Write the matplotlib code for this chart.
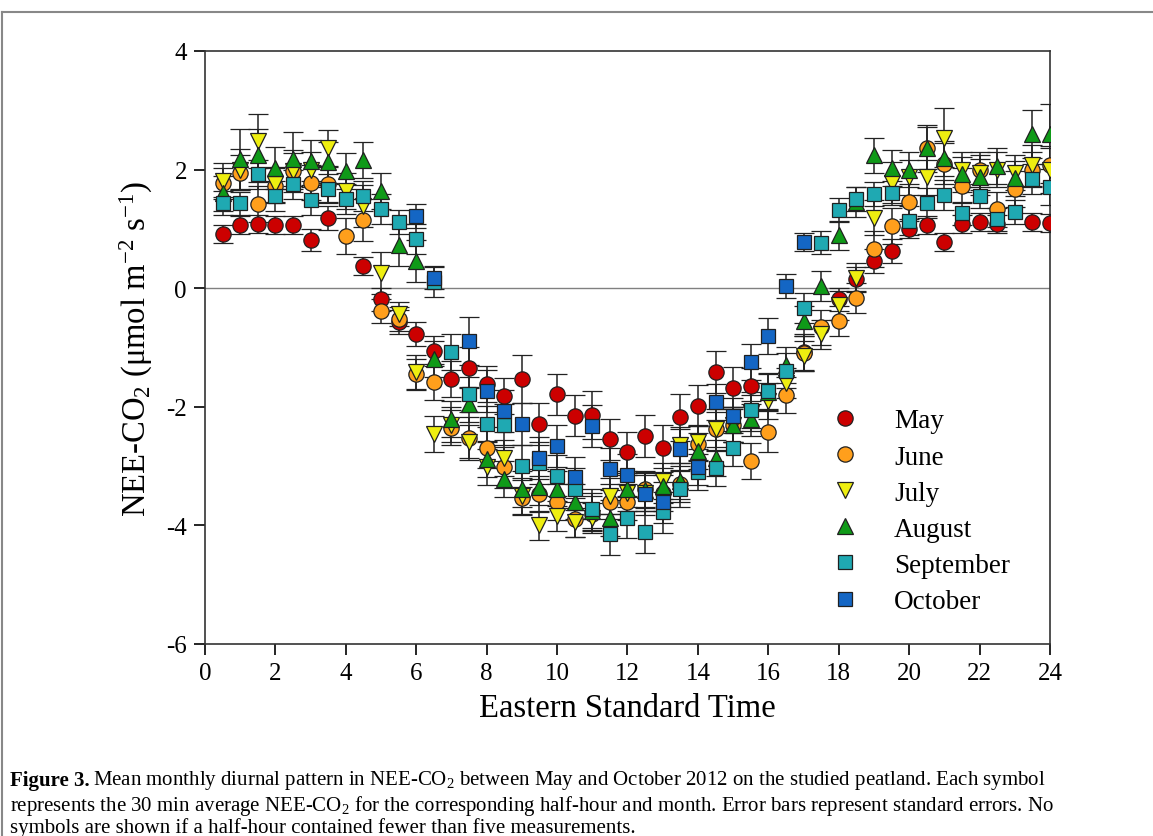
import numpy as np
import matplotlib
matplotlib.use("Agg")
import matplotlib.pyplot as plt
from matplotlib.lines import Line2D

plt.rcParams['font.family'] = ['Liberation Serif', 'DejaVu Serif']
plt.rcParams['mathtext.fontset'] = 'custom'
plt.rcParams['mathtext.rm'] = 'Liberation Serif'
plt.rcParams['mathtext.default'] = 'regular'

nan = np.nan

# half-hour time stamps 0.5 .. 24
hours = np.arange(1, 49) * 0.5

months = ['May', 'June', 'July', 'August', 'September', 'October']

may = [0.92, 1.07, 1.08, 1.06, 1.06, 0.81, 1.18, nan, 0.38, -0.19, -0.57, -0.77,
       -1.06, -1.53, -1.34, -1.62, -1.82, -1.53, -2.29, -1.79, -2.15, -2.14, -2.55, -2.77,
       -2.49, -2.70, -2.18, -1.98, -1.41, -1.68, -1.65, nan, nan, -1.08, nan, -0.19,
       0.15, 0.46, 0.63, 0.99, 1.06, 0.78, 1.08, 1.11, 1.08, nan, 1.11, 1.10]
june = [1.78, 1.95, 1.42, 1.73, 1.98, 1.78, 1.75, 0.88, 1.15, -0.38, -0.52, -1.45,
        -1.58, -2.35, -2.52, -2.69, -3.02, -3.53, -3.47, -3.61, -3.90, -3.80, -3.60, -3.61,
        -3.39, -3.45, -3.30, -2.62, -2.38, -2.30, -2.91, -2.42, -1.80, -1.10, -0.66, -0.55,
        -0.17, 0.66, 1.05, 1.46, 2.36, 2.10, 1.73, 2.00, 1.33, 1.67, 2.00, 2.07]
july = [1.81, 2.00, 2.48, 1.75, 1.98, 2.00, 2.36, 1.64, 1.39, 0.26, -0.44, -1.42,
        -2.46, -2.30, -2.60, -3.02, -2.86, -3.50, -4.00, -3.84, -3.95, -3.88, -3.50, -3.45,
        -3.45, -3.25, -2.64, -2.60, -2.38, -2.30, -2.10, -1.90, -1.60, -1.14, -0.78, -0.29,
        0.18, 1.19, 1.78, 1.87, 1.87, 2.54, 2.00, 1.95, 2.00, 1.95, 2.07, 2.00]
august = [1.60, 2.18, 2.24, 2.03, 2.18, 2.15, 2.12, 1.98, 2.16, 1.64, 0.73, 0.46,
          -1.19, -2.21, -1.96, -2.88, -3.22, -3.39, -3.35, -3.38, -3.60, -3.75, -3.88, -3.39,
          -3.40, -3.33, -3.25, -2.75, -2.86, -2.30, -2.20, -1.75, -1.30, -0.55, 0.04, 0.89,
          1.45, 2.24, 2.03, 2.00, 2.36, 2.19, 1.92, 1.88, 2.06, 1.85, 2.60, 2.60]
september = [1.44, 1.43, 1.92, 1.55, 1.75, 1.49, 1.68, 1.50, 1.55, 1.34, 1.12, 0.83,
             0.10, -1.08, -1.79, -2.29, -2.30, -3.00, -2.95, -3.16, -3.39, -3.73, -4.15, -3.87,
             -4.11, -3.78, -3.39, -3.10, -3.04, -2.70, -2.05, -1.73, -1.39, -0.33, 0.77, 1.32,
             1.51, 1.59, 1.60, 1.14, 1.44, 1.57, 1.26, 1.55, 1.16, 1.28, 1.84, 1.71]
october = [nan, nan, nan, nan, nan, nan, nan, nan, nan, nan, nan, 1.22,
           0.18, nan, -0.89, -1.73, -2.07, -2.29, -2.86, -2.66, -3.19, -2.32, -3.05, -3.15,
           -3.47, -3.61, -2.72, -3.02, -1.92, -2.15, -1.24, -0.81, 0.04, 0.78, nan, nan,
           nan, nan, nan, nan, nan, nan, nan, nan, nan, nan, nan, nan]

# standard errors
may_se = [0.15, 0.15, 0.15, 0.15, 0.15, 0.18, 0.2, 0.2, 0.15, 0.2, 0.2, 0.2,
          0.25, 0.3, 0.35, 0.3, 0.3, 0.4, 0.35, 0.35, 0.35, 0.4, 0.35, 0.35,
          0.35, 0.4, 0.4, 0.35, 0.35, 0.35, 0.3, 0.3, 0.3, 0.3, 0.3, 0.2,
          0.2, 0.2, 0.2, 0.15, 0.15, 0.15, 0.15, 0.15, 0.15, 0.15, 0.15, 0.15]
june_se = [0.25, 0.3, 0.3, 0.3, 0.3, 0.3, 0.3, 0.3, 0.35, 0.2, 0.2, 0.25,
           0.3, 0.3, 0.35, 0.35, 0.35, 0.3, 0.3, 0.3, 0.3, 0.3, 0.3, 0.3,
           0.3, 0.3, 0.3, 0.3, 0.35, 0.3, 0.3, 0.35, 0.3, 0.3, 0.3, 0.25,
           0.25, 0.3, 0.3, 0.3, 0.35, 0.35, 0.3, 0.3, 0.3, 0.3, 0.3, 0.3]
july_se = [0.3, 0.35, 0.45, 0.3, 0.35, 0.3, 0.3, 0.3, 0.35, 0.35, 0.2, 0.3,
           0.3, 0.3, 0.3, 0.3, 0.3, 0.3, 0.25, 0.25, 0.25, 0.25, 0.3, 0.3,
           0.3, 0.3, 0.3, 0.3, 0.3, 0.3, 0.3, 0.3, 0.25, 0.25, 0.25, 0.25,
           0.25, 0.3, 0.35, 0.3, 0.3, 0.5, 0.3, 0.3, 0.3, 0.3, 0.35, 0.4]
august_se = [0.3, 0.5, 0.45, 0.35, 0.45, 0.35, 0.35, 0.3, 0.3, 0.3, 0.35, 0.35,
             0.3, 0.3, 0.3, 0.3, 0.3, 0.3, 0.3, 0.3, 0.3, 0.3, 0.3, 0.3,
             0.3, 0.3, 0.3, 0.3, 0.3, 0.3, 0.3, 0.3, 0.3, 0.25, 0.25, 0.25,
             0.25, 0.3, 0.3, 0.3, 0.4, 0.3, 0.3, 0.3, 0.3, 0.3, 0.4, 0.5]
september_se = [0.2, 0.2, 0.25, 0.25, 0.25, 0.25, 0.25, 0.25, 0.25, 0.25, 0.2, 0.25,
                0.25, 0.3, 0.3, 0.3, 0.35, 0.35, 0.35, 0.35, 0.35, 0.35, 0.35, 0.35,
                0.35, 0.35, 0.3, 0.3, 0.3, 0.3, 0.3, 0.3, 0.3, 0.25, 0.2, 0.2,
                0.2, 0.2, 0.2, 0.25, 0.25, 0.25, 0.2, 0.2, 0.2, 0.2, 0.25, 0.3]
october_se = [nan, nan, nan, nan, nan, nan, nan, nan, nan, nan, nan, 0.2,
              0.2, nan, 0.4, 0.35, 0.35, 0.35, 0.35, 0.35, 0.35, 0.35, 0.35, 0.35,
              0.35, 0.35, 0.35, 0.3, 0.3, 0.3, 0.3, 0.3, 0.2, 0.15, nan, nan,
              nan, nan, nan, nan, nan, nan, nan, nan, nan, nan, nan, nan]

series = [may, june, july, august, september, october]
errors = [may_se, june_se, july_se, august_se, september_se, october_se]
colors = ['#CC0000', '#FF9F1C', '#EEEE10', '#0F9A18', '#1FA9B2', '#1466C4']
markers = ['o', 'o', 'v', '^', 's', 's']
sizes = {'o': 11, 'v': 11, '^': 11, 's': 9.8}

fig = plt.figure(figsize=(11.53, 8.37), dpi=100)
ax = fig.add_axes([205 / 1153, 1 - 645 / 837, 845 / 1153, 593 / 837])

ax.axhline(0, color='#808080', lw=1, zorder=1)

for vals, se, c, m in zip(series, errors, colors, markers):
    ax.errorbar(hours, vals, yerr=se, fmt=m, ms=sizes[m],
                mfc=c, mec='#202020', mew=0.9, ecolor='#222222', elinewidth=1.1,
                capsize=7, capthick=1.1, zorder=3)

ax.set_xlim(0, 24)
ax.set_ylim(-6, 4)
ax.set_xticks(range(0, 25, 2))
ax.set_yticks(range(-6, 5, 2))
ax.set_yticklabels(['-6', '-4', '-2', '0', '2', '4'])
ax.tick_params(direction='out', length=8, width=1.2, labelsize=18, pad=5,
               top=False, right=False)
for sp in ax.spines.values():
    sp.set_linewidth(1.2)
    sp.set_color('#333333')

ax.set_xlabel('Eastern Standard Time', fontsize=23.5, labelpad=6)
ax.set_ylabel('NEE-CO$_2$ (μmol m$^{-2}$ s$^{-1}$)', fontsize=23.5, labelpad=8)

handles = [Line2D([], [], ls='none', marker=m, ms=sizes[m],
                  mfc=c, mec='#202020', mew=0.9)
           for c, m in zip(colors, markers)]
ax.legend(handles, months, loc='upper left', bbox_to_anchor=(0.729, 0.42),
          frameon=False, fontsize=19.5, handlelength=0.8, handletextpad=1.4,
          labelspacing=0.41, borderpad=0)

# frame lines around the figure block
fig.add_artist(Line2D([2 / 1153, 2 / 1153], [0, 1 - 13 / 837], color='#888888', lw=1.5))
fig.add_artist(Line2D([2 / 1153, 1], [1 - 13 / 837, 1 - 13 / 837], color='#888888', lw=1.5))

# caption
cap_fs = 15
t = fig.text(10 / 1153, 1 - 781 / 837, 'Figure 3.', fontsize=cap_fs,
             fontweight='bold', va='center')
fig.canvas.draw()
bb = t.get_window_extent()
x2 = (bb.x1 + 3) / 1153
fig.text(x2, 1 - 781 / 837, r'Mean monthly diurnal pattern in NEE-CO$_2$ between May and October 2012 '
         r'on the studied peatland. Each symbol', fontsize=cap_fs, va='center')
fig.text(10 / 1153, 1 - 806 / 837,
         r'represents the 30 min average NEE-CO$_2$ for the corresponding half-hour and month. '
         r'Error bars represent standard errors. No', fontsize=cap_fs, va='center')
fig.text(10 / 1153, 1 - 828 / 837,
         'symbols are shown if a half-hour contained fewer than five measurements.',
         fontsize=cap_fs, va='center')

fig.savefig('out.png', dpi=100)
